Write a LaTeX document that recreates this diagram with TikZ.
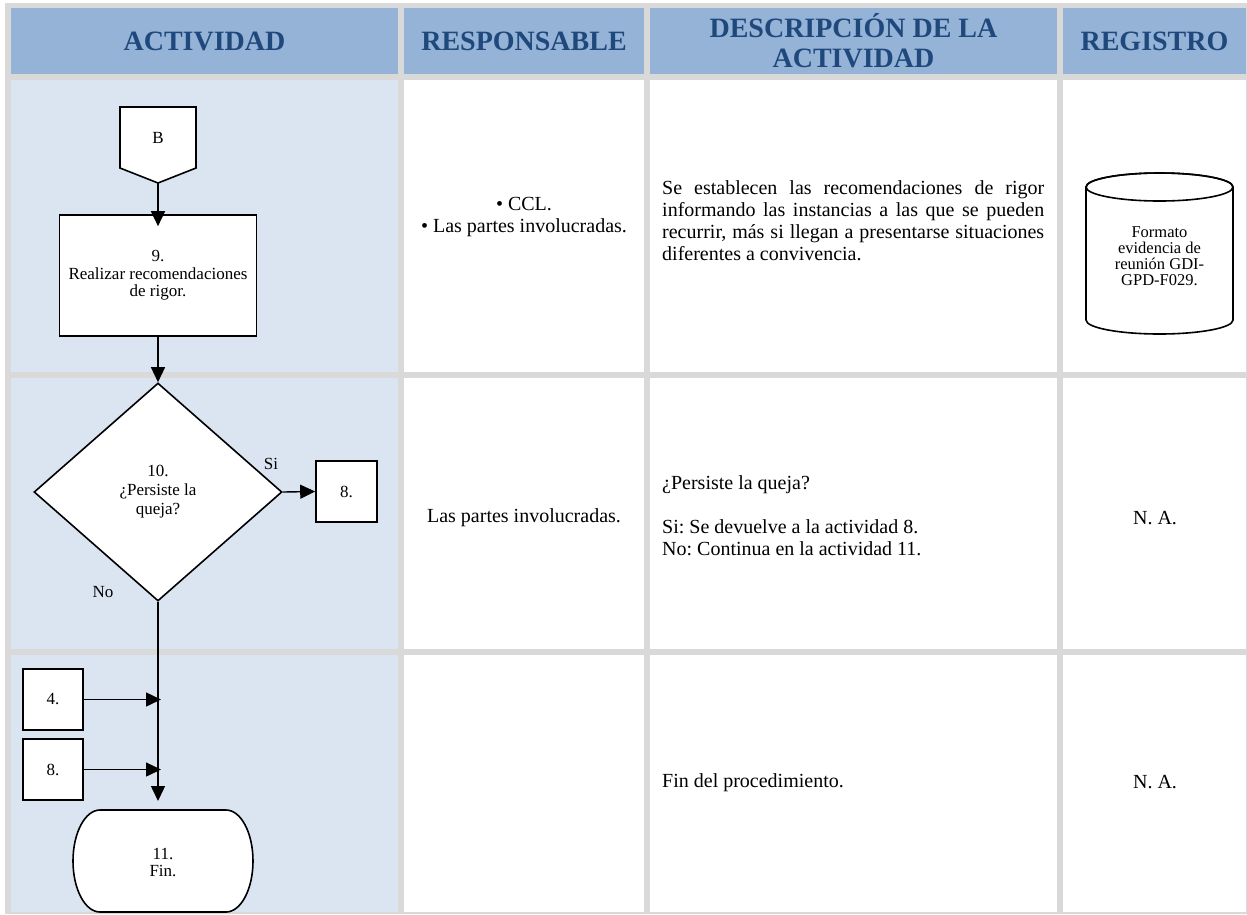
\documentclass[tikz,border=0pt]{standalone}
\usepackage{fontspec}
\setmainfont{Liberation Serif}
\usetikzlibrary{arrows.meta,shapes.geometric}
\frenchspacing
\definecolor{hdrblue}{HTML}{95B3D7}
\definecolor{hdrtext}{HTML}{1F497D}
\definecolor{lanefill}{HTML}{DBE5F1}
\definecolor{gridgray}{HTML}{D9D9D9}
\tikzset{hdr/.style={font=\bfseries\fontsize{28}{30}\selectfont, text=hdrtext,
  align=center, inner sep=0pt},
  txt/.style={font=\fontsize{20}{22}\selectfont, inner sep=0pt},
  shp/.style={draw, line width=1.6pt, fill=white, align=center, inner sep=2pt,
  font=\fontsize{17}{17.5}\selectfont},
  lbl/.style={font=\fontsize{17}{17}\selectfont, inner sep=0pt, align=center},
  flow/.style={-{Triangle[length=15pt,width=14pt]}, line width=1.4pt}}

\begin{document}
\begin{tikzpicture}[x=1pt, y=-1pt]
  \fill[white] (0,0) rectangle (1247,914);
  \fill[gridgray] (5,3) rectangle (1247,914);
  \useasboundingbox (0,0) rectangle (1247,914);
  \fill[hdrblue] (11,8) rectangle (398,74);
  \fill[hdrblue] (404,8) rectangle (644,74);
  \fill[hdrblue] (650,8) rectangle (1057,74);
  \fill[hdrblue] (1063,8) rectangle (1246,74);
  \fill[lanefill] (11,80) rectangle (398,372);
  \fill[lanefill] (11,378) rectangle (398,649);
  \fill[lanefill] (11,655) rectangle (398,912);
  \fill[white] (404,80) rectangle (644,372);
  \fill[white] (404,378) rectangle (644,649);
  \fill[white] (404,655) rectangle (644,912);
  \fill[white] (650,80) rectangle (1057,372);
  \fill[white] (650,378) rectangle (1057,649);
  \fill[white] (650,655) rectangle (1057,912);
  \fill[white] (1063,80) rectangle (1246,372);
  \fill[white] (1063,378) rectangle (1246,649);
  \fill[white] (1063,655) rectangle (1246,912);

  \node[hdr] (hact) at (204.5,41) {ACTIVIDAD};
  \node[hdr] (hresp) at (524,41) {RESPONSABLE};
  \node[hdr] (hdesc) at (853.5,41) {DESCRIPCIÓN DE LA\\ACTIVIDAD};
  \node[hdr] (hreg) at (1154.5,41) {REGISTRO};

  \filldraw[fill=white, line width=1.6pt] (120,107) -- (196,107) -- (196,168)
    -- (158,183) -- (120,168) -- cycle;
  \node[lbl] (conB) at (158,138) {B};
  \coordinate (btip) at (158,183);
  \node[shp, minimum width=197pt, minimum height=121pt] (act9) at (158,275.5)
    {9.\\Realizar recomendaciones\\de rigor.};
  \node[shp, diamond, minimum width=248pt, minimum height=218pt, inner sep=0pt,
    font=\fontsize{17}{19}\selectfont] (dec10) at (158,492)
    {10.\\¿Persiste la\\queja?};
  \node[shp, minimum size=61pt] (to8) at (346.5,491.5) {8.};
  \node[shp, minimum width=60pt, minimum height=61pt] (go4) at (53,699.5) {4.};
  \node[shp, minimum width=60pt, minimum height=61pt] (go8) at (53,769.5) {8.};
  \filldraw[fill=white, line width=1.6pt] (100,810) -- (226,810)
    arc[start angle=-90, end angle=90, x radius=27, y radius=51] -- (100,912)
    arc[start angle=90, end angle=270, x radius=27, y radius=51] -- cycle;
  \node[lbl] (fin) at (163,862) {11.\\Fin.};
  \node[lbl] (si) at (271,464) {Si};
  \node[lbl] (no) at (103,592) {No};

  \draw[flow, shorten >=-12pt] (btip) -- (btip |- act9.north);
  \draw[flow] (act9.south) -- (dec10.north);
  \draw[flow] (dec10.east) -- (to8.west);
  \draw[flow, shorten >=9pt] (dec10.south) -- (dec10.south |- 0,810);
  \draw[flow, shorten >=-3pt] (go4.east) -- (go4.east -| dec10.south);
  \draw[flow, shorten >=-3pt] (go8.east) -- (go8.east -| dec10.south);

  \node[txt, align=center] (resp9) at (524,217)
    {• CCL.\\• Las partes involucradas.};
  \node[txt, anchor=west, align=left] (desc9) at (662,221)
    {\makebox[382pt][s]{Se establecen las recomendaciones de rigor}\\
     \makebox[382pt][s]{informando las instancias a las que se pueden}\\
     \makebox[382pt][s]{recurrir, más si llegan a presentarse situaciones}\\
     diferentes a convivencia.};
  \filldraw[fill=white, line width=1.6pt] (1086,187) -- (1086,320)
    arc[start angle=180, end angle=0, x radius=73.5, y radius=14] -- (1233,187)
    arc[start angle=0, end angle=-180, x radius=73.5, y radius=14] -- cycle;
  \draw[line width=1.6pt] (1159.5,187) ellipse[x radius=73.5, y radius=14];
  \node[lbl, font=\fontsize{16.5}{16}\selectfont] (reg9) at (1159.5,256)
    {Formato\\evidencia de\\reunión GDI-\\GPD-F029.};

  \node[txt] (resp10) at (524,518) {Las partes involucradas.};
  \node[txt, anchor=west, align=left] (desc10) at (662,516)
    {¿Persiste la queja?\\[22pt]Si: Se devuelve a la actividad 8.\\
     No: Continua en la actividad 11.};
  \node[txt] (reg10) at (1155,518) {N. A.};

  \node[txt, anchor=west] (desc11) at (662,783) {Fin del procedimiento.};
  \node[txt] (reg11) at (1155,782) {N. A.};
\end{tikzpicture}
\end{document}
